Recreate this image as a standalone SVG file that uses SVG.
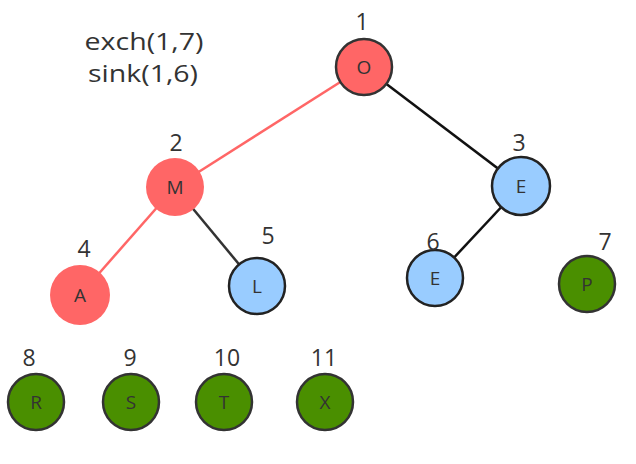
<svg xmlns="http://www.w3.org/2000/svg" width="636" height="464" viewBox="0 0 636 464">
<style>
.t{font-family:"Open Sans","Noto Sans",sans-serif;fill:#333;text-anchor:middle}
.lbl{font-size:23px}
.nl{font-size:19px;dominant-baseline:central}
.red{fill:#FF6666}
.blue{fill:#99CCFF;stroke:#222;stroke-width:2.5}
.green{fill:#4A8F00;stroke:#333;stroke-width:2.5}
.redb{fill:#FF6666;stroke:#333;stroke-width:2.5}
</style>
<rect width="636" height="464" fill="#fff"/>
<text class="t" x="144" y="50" font-size="24" textLength="119" lengthAdjust="spacingAndGlyphs">exch(1,7)</text>
<text class="t" x="143" y="82" font-size="24" textLength="110" lengthAdjust="spacingAndGlyphs">sink(1,6)</text>
<g id="connectors" stroke-width="2.5">
<line x1="364" y1="67" x2="175" y2="187" stroke="#FF6666"/>
<line x1="175" y1="187" x2="80" y2="295" stroke="#FF6666"/>
<line x1="364" y1="67" x2="521" y2="186" stroke="#111"/>
<line x1="175" y1="187" x2="257" y2="286" stroke="#333"/>
<line x1="521" y1="186" x2="435" y2="278" stroke="#111"/>
</g>
<g id="n1"><circle class="redb" cx="364" cy="67" r="28"/><text class="t nl" x="364" y="67">O</text><text class="t lbl" x="362" y="30">1</text></g>
<g id="n2"><circle class="red" cx="175" cy="187" r="29"/><text class="t nl" x="175" y="187">M</text><text class="t lbl" x="176" y="151">2</text></g>
<g id="n3"><circle class="blue" cx="521" cy="186" r="29"/><text class="t nl" x="521" y="186">E</text><text class="t lbl" x="519" y="151">3</text></g>
<g id="n4"><circle class="red" cx="80" cy="295" r="30"/><text class="t nl" x="80" y="295">A</text><text class="t lbl" x="84" y="257">4</text></g>
<g id="n5"><circle class="blue" cx="257" cy="286" r="28"/><text class="t nl" x="257" y="286">L</text><text class="t lbl" x="268" y="244">5</text></g>
<g id="n6"><circle class="blue" cx="435" cy="278" r="28"/><text class="t nl" x="435" y="278">E</text><text class="t lbl" x="433" y="250">6</text></g>
<g id="n7"><circle class="green" cx="587" cy="284" r="28"/><text class="t nl" x="587" y="284">P</text><text class="t lbl" x="605" y="250">7</text></g>
<g id="n8"><circle class="green" cx="36" cy="402" r="28"/><text class="t nl" x="36" y="402">R</text><text class="t lbl" x="29" y="366">8</text></g>
<g id="n9"><circle class="green" cx="131" cy="402" r="28"/><text class="t nl" x="131" y="402">S</text><text class="t lbl" x="130" y="366">9</text></g>
<g id="n10"><circle class="green" cx="224" cy="402" r="28" stroke="#111"/><text class="t nl" x="224" y="402">T</text><text class="t lbl" x="227" y="366">10</text></g>
<g id="n11"><circle class="green" cx="325" cy="402" r="28"/><text class="t nl" x="325" y="402">X</text><text class="t lbl" x="324" y="366">11</text></g>
</svg>
